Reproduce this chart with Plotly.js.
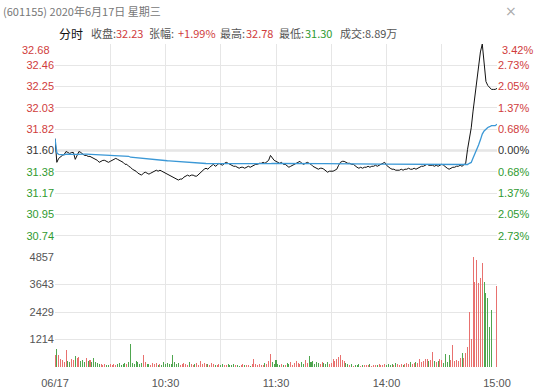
<!DOCTYPE html>
<html>
<head>
<meta charset="utf-8">
<script src="https://cdn.plot.ly/plotly-3.0.1.min.js"></script>
<style>html,body{margin:0;padding:0;background:#fff;}#chart{width:554px;height:389px;}</style>
</head>
<body>
<div id="chart"></div>
<script>
// ---- data ----
const prevClose = 31.60;
const minutes = []; for (let i = 0; i <= 240; i++) minutes.push(i);
const prices = [
31.72,31.48,31.52,31.54,31.55,31.56,31.59,31.58,31.57,31.58,
31.58,31.51,31.55,31.59,31.58,31.56,31.55,31.55,31.54,31.54,
31.53,31.52,31.51,31.50,31.48,31.49,31.50,31.50,31.49,31.48,
31.49,31.50,31.51,31.52,31.51,31.50,31.49,31.48,31.46,31.46,
31.44,31.43,31.41,31.40,31.39,31.37,31.36,31.35,31.37,31.38,
31.37,31.36,31.37,31.38,31.39,31.40,31.39,31.40,31.39,31.38,
31.37,31.36,31.35,31.34,31.33,31.32,31.31,31.30,31.31,31.31,
31.33,31.34,31.35,31.34,31.35,31.35,31.34,31.34,31.36,31.37,
31.39,31.41,31.42,31.41,31.43,31.45,31.46,31.44,31.45,31.47,
31.46,31.45,31.47,31.48,31.47,31.46,31.45,31.44,31.44,31.43,
31.42,31.43,31.43,31.42,31.43,31.44,31.43,31.44,31.45,31.46,
31.46,31.47,31.47,31.48,31.47,31.49,31.50,31.55,31.52,31.50,
31.49,31.48,31.47,31.48,31.46,31.46,31.44,31.43,31.44,31.45,
31.46,31.47,31.48,31.49,31.47,31.46,31.47,31.48,31.47,31.46,
31.44,31.43,31.42,31.41,31.42,31.42,31.41,31.39,31.38,31.39,
31.39,31.39,31.40,31.41,31.45,31.48,31.49,31.49,31.48,31.47,
31.47,31.46,31.46,31.44,31.43,31.42,31.43,31.42,31.43,31.43,
31.44,31.43,31.44,31.44,31.45,31.44,31.45,31.46,31.47,31.48,
31.45,31.43,31.42,31.41,31.41,31.40,31.40,31.40,31.41,31.40,
31.41,31.41,31.42,31.41,31.41,31.42,31.41,31.42,31.43,31.44,
31.44,31.45,31.46,31.45,31.45,31.45,31.44,31.45,31.44,31.45,
31.46,31.45,31.43,31.42,31.41,31.42,31.43,31.43,31.44,31.44,
31.45,31.44,31.46,31.47,31.61,31.71,31.83,32.00,32.15,32.26,
32.40,32.60,32.68,32.45,32.30,32.26,32.24,32.22,32.22,32.22,
32.23
];
const volumes = [
520,775,530,370,300,240,730,260,200,340,
300,470,380,420,250,300,220,380,260,300,
220,400,240,180,150,120,90,140,110,80,
130,100,150,90,120,160,110,130,170,120,
200,1000,180,150,260,200,150,180,540,220,
120,150,100,180,130,160,90,140,110,200,
130,170,120,150,510,200,140,160,110,150,
180,120,100,220,140,90,130,170,110,250,
150,180,120,140,100,160,130,80,110,150,
90,120,80,100,140,70,90,120,80,100,
60,90,120,80,70,100,60,140,370,120,
80,150,90,110,180,130,250,560,200,140,
330,120,90,150,100,80,180,120,200,110,
160,250,180,140,220,130,300,170,490,200,
260,150,230,180,140,220,160,120,210,150,
180,370,280,350,420,520,300,250,180,120,
90,150,60,100,80,130,60,90,110,70,
80,120,60,90,100,70,130,80,100,150,
90,120,80,140,100,160,120,90,150,110,
130,170,120,200,140,180,230,160,360,220,
280,370,360,250,300,670,280,200,250,360,
300,180,580,240,540,300,980,250,320,280,
400,610,380,600,880,2430,1220,4845,3760,4720,
3690,3910,4580,3735,3250,3050,1770,2505,0,0,
3570
];
const xTickVals = [0,30,60,90,120,150,180,210,240];
const xTickText = ["06/17","","10:30","","11:30","","14:00","","15:00"];
const priceTickText = ["30.74","30.95","31.17","31.38","31.60","31.82","32.03","32.25","32.46"];
const pctTickText = ["2.73%","2.05%","1.37%","0.68%","0.00%","0.68%","1.37%","2.05%","2.73%"];
const topPriceLabel = "32.68", topPctLabel = "3.42%";
const volTickText = ["1214","2429","3643","4857"];
const volMax = 4857;

// ---- derived ----
const step = prevClose * 0.0342 / 5;
const pMin = prevClose - 5*step, pMax = prevClose + 5*step;
const priceTickVals = [-4,-3,-2,-1,0,1,2,3,4].map(k => prevClose + k*step);
const RED = "#d03c3c", GREEN = "#2f9a2f", GRAY = "#555";
const colorFor = (i) => i > 4 ? RED : (i < 4 ? GREEN : "#333");
const priceTT = priceTickText.map((t,i) => `<span style="color:${colorFor(i)}">${t}</span>`);
const pctTT = pctTickText.map((t,i) => `<span style="color:${colorFor(i)}">${t}</span>`);
const volTickVals = [1,2,3,4].map(k => volMax*k/4);

// average price (cumulative VWAP)
const avg = []; let sv = 0, spv = 0;
for (let i = 0; i < prices.length; i++) {
  sv += volumes[i]; spv += volumes[i]*prices[i];
  avg.push(sv > 0 ? spv/sv : prices[i]);
}
const barColors = prices.map((p,i) => (i === 0 ? p >= prevClose : p >= prices[i-1]) ? "#e8716f" : "#4fa64f");

const L = 55, R = 57, T = 44, B = 22, W = 554, H = 389;
const pw = W - L - R, ph = H - T - B;
const xp = px => (px - L) / pw;
const yp = py => 1 - (py - T) / ph;
const volFrac = 110 / ph;

const traces = [
  {x: minutes, y: prices, type: "scatter", mode: "lines", line: {color: "#111", width: 1}, xaxis: "x", yaxis: "y", hoverinfo: "skip"},
  {x: minutes, y: avg, type: "scatter", mode: "lines", line: {color: "#3b98d6", width: 1.3}, xaxis: "x", yaxis: "y", hoverinfo: "skip"},
  {x: minutes, y: prices, type: "scatter", mode: "lines", line: {color: "rgba(0,0,0,0)", width: 0}, xaxis: "x", yaxis: "y2", hoverinfo: "skip"},
  {x: minutes, y: volumes, type: "bar", marker: {color: barColors, line: {width: 0}}, width: 0.55, xaxis: "x", yaxis: "y3", hoverinfo: "skip"}
];

const font = {family: "Liberation Sans, Arial, sans-serif", size: 11, color: GRAY};
const cjk = "Noto Sans CJK SC, sans-serif";
function hdr(px, text, color, size) {
  return {xref: "paper", yref: "paper", x: xp(px), y: yp(33), xanchor: "left", yanchor: "middle",
    text: text, showarrow: false, font: {family: cjk, size: size || 11, color: color}};
}
const annotations = [
  {xref: "paper", yref: "paper", x: xp(1), y: yp(11), xanchor: "left", yanchor: "middle", showarrow: false,
   text: "(601155) 2020年6月17日 星期三", font: {family: cjk, size: 11, color: "#777"}},
  {xref: "paper", yref: "paper", x: xp(511), y: yp(11), xanchor: "center", yanchor: "middle", showarrow: false,
   text: "×", font: {family: "DejaVu Sans", size: 14, color: "#aaa"}},
  hdr(57, "分时", "#111", 12),
  hdr(89, "收盘:", GRAY), hdr(114, "32.23", RED),
  hdr(147, "张幅:", GRAY), hdr(176, "+1.99%", RED),
  hdr(218, "最高:", GRAY), hdr(244, "32.78", RED),
  hdr(277, "最低:", GRAY), hdr(303, "31.30", GREEN),
  hdr(338, "成交:", GRAY), hdr(363, "8.89万", GRAY),
  {xref: "paper", yref: "paper", x: xp(52), y: yp(50), xanchor: "right", yanchor: "middle", showarrow: false,
   text: topPriceLabel, font: Object.assign({}, font, {color: RED})},
  {xref: "paper", yref: "paper", x: xp(500), y: yp(50), xanchor: "left", yanchor: "middle", showarrow: false,
   text: topPctLabel, font: Object.assign({}, font, {color: RED})}
];

const layout = {
  width: W, height: H, margin: {l: L, r: R, t: T, b: B, pad: 0},
  paper_bgcolor: "#fff", plot_bgcolor: "#fff", showlegend: false, bargap: 0,
  font: font,
  xaxis: {range: [0, 240], tickvals: xTickVals, ticktext: xTickText, showgrid: true, gridcolor: "#e6e6e6",
    zeroline: false, showline: false, ticks: "outside", ticklen: 6, tickcolor: "rgba(0,0,0,0)", anchor: "y3",
    tickfont: font, fixedrange: true},
  yaxis: {domain: [volFrac, 1], range: [pMin, pMax], tickvals: priceTickVals.concat([pMax]), ticktext: priceTT.concat([""]),
    showgrid: true, gridcolor: "#e6e6e6", zeroline: false, showline: false, ticks: "", tickfont: font, fixedrange: true},
  yaxis2: {overlaying: "y", side: "right", range: [pMin, pMax], tickvals: priceTickVals, ticktext: pctTT,
    showgrid: false, zeroline: false, showline: false, ticks: "", tickfont: font, fixedrange: true},
  yaxis3: {domain: [0, volFrac], range: [0, volMax], tickvals: volTickVals, ticktext: volTickText,
    showgrid: true, gridcolor: "#e6e6e6", zeroline: false, showline: false, ticks: "", tickfont: font, fixedrange: true},
  shapes: [
    {type: "line", xref: "paper", yref: "y", x0: 0, x1: 1, y0: prevClose, y1: prevClose, line: {color: "#d8d8d8", width: 2}, layer: "below"}
  ],
  annotations: annotations
};
Plotly.newPlot("chart", traces, layout, {displayModeBar: false, staticPlot: true});
</script>
</body>
</html>
